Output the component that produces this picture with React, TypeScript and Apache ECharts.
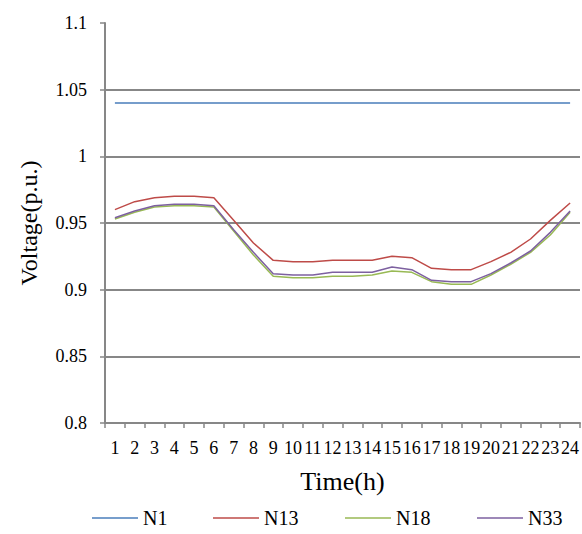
import React, { useEffect, useRef } from "react";
import * as echarts from "echarts";

const hours = ["1","2","3","4","5","6","7","8","9","10","11","12","13","14","15","16","17","18","19","20","21","22","23","24"];
const seriesNames = ["N1", "N13", "N18", "N33"];
const n1 = [1.04,1.04,1.04,1.04,1.04,1.04,1.04,1.04,1.04,1.04,1.04,1.04,1.04,1.04,1.04,1.04,1.04,1.04,1.04,1.04,1.04,1.04,1.04,1.04];
const n13 = [0.960,0.966,0.969,0.970,0.970,0.969,0.952,0.935,0.922,0.921,0.921,0.922,0.922,0.922,0.925,0.924,0.916,0.915,0.915,0.921,0.928,0.938,0.952,0.965];
const n18 = [0.953,0.958,0.962,0.963,0.963,0.962,0.944,0.926,0.910,0.909,0.909,0.910,0.910,0.911,0.914,0.913,0.906,0.904,0.904,0.911,0.919,0.928,0.941,0.958];
const n33 = [0.954,0.959,0.963,0.964,0.964,0.963,0.945,0.928,0.912,0.911,0.911,0.913,0.913,0.913,0.917,0.915,0.907,0.906,0.906,0.912,0.920,0.929,0.943,0.959];
const yTicks = { min: 0.8, max: 1.1, interval: 0.05 };

const colors = ["#4a7ebb", "#be4b48", "#98b954", "#7d60a0"];
const FONT = "Times New Roman";
const GREY = "#878787";

export default function App() {
  const ref = useRef<HTMLDivElement>(null);
  useEffect(() => {
    const chart = echarts.init(ref.current!, null, { renderer: "svg" });
    const datasets = [n1, n13, n18, n33];
    const legendLefts = [92, 213, 345, 477];
    chart.setOption({
      animation: false,
      backgroundColor: "#fff",
      textStyle: { fontFamily: FONT },
      grid: { left: 105, top: 23, width: 480, height: 400, containLabel: false },
      legend: seriesNames.map((name, i) => ({
        data: [{ name, icon: "rect" }],
        left: legendLefts[i],
        top: 508,
        padding: 0,
        itemWidth: 46,
        itemHeight: 1.5,
        itemStyle: { color: colors[i] },
        textStyle: { fontFamily: FONT, fontSize: 20, color: "#000", padding: [0, 0, 0, 0] },
      })),
      xAxis: {
        type: "category",
        data: hours,
        boundaryGap: true,
        axisLine: { show: true, lineStyle: { color: GREY, width: 2 } },
        axisTick: { show: true, length: 5, lineStyle: { color: GREY, width: 1.5 } },
        axisLabel: { interval: 0, color: "#000", fontFamily: FONT, fontSize: 18, margin: 16 },
        splitLine: { show: false },
        name: "Time(h)",
        nameLocation: "middle",
        nameGap: 45,
        nameTextStyle: { fontFamily: FONT, fontSize: 26, color: "#000" },
      },
      yAxis: {
        type: "value",
        min: yTicks.min,
        max: yTicks.max,
        interval: yTicks.interval,
        axisLine: { show: true, lineStyle: { color: GREY, width: 2 } },
        axisTick: { show: true, length: 5, lineStyle: { color: GREY, width: 1.5 } },
        axisLabel: {
          color: "#000",
          fontFamily: FONT,
          fontSize: 18,
          margin: 18,
          formatter: (v: number) => String(+v.toFixed(2)),
        },
        splitLine: { show: true, showMaxLine: false, lineStyle: { color: GREY, width: 2 } },
        name: "Voltage(p.u.)",
        nameLocation: "middle",
        nameRotate: 90,
        nameGap: 64,
        nameTextStyle: { fontFamily: FONT, fontSize: 24, color: "#000" },
      },
      series: seriesNames.map((name, i) => ({
        name,
        type: "line",
        data: datasets[i],
        symbol: "none",
        showSymbol: false,
        color: colors[i],
        lineStyle: { color: colors[i], width: 1.5 },
      })),
    });
    return () => chart.dispose();
  }, []);
  return (
    <div
      ref={ref}
      style={{ position: "absolute", left: 0, top: 0, width: 582, height: 534, background: "#fff" }}
    />
  );
}
